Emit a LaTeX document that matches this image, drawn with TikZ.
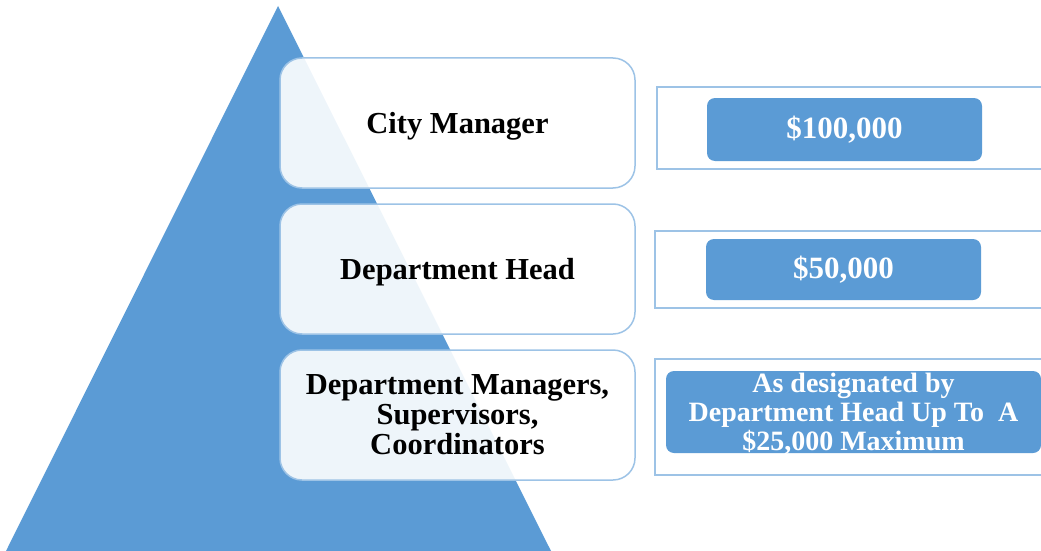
\documentclass[tikz,border=0pt]{standalone}
\usepackage{fontspec}
\setmainfont{Liberation Serif}
\usetikzlibrary{positioning}
\definecolor{pyrblue}{HTML}{5B9BD5}
\definecolor{edgeblue}{HTML}{9DC3E6}

\begin{document}
\begin{tikzpicture}[x=1pt, y=-1pt,
  level/.style={draw=edgeblue, line width=1.5pt, fill=white, fill opacity=0.9, text opacity=1,
    rounded corners=22pt, minimum width=355pt, minimum height=130pt, align=center,
    font=\fontsize{30.5}{30}\selectfont\bfseries},
  frame/.style={draw=edgeblue, line width=2pt, fill=white},
  amount/.style={fill=pyrblue, rounded corners=8pt, text=white, align=center,
    font=\fontsize{31}{30}\selectfont\bfseries}]
\useasboundingbox (0,0) rectangle (1041,551);
% pyramid
\coordinate (top) at (278,6);
\coordinate (bl) at (6,551);
\coordinate (br) at (551,551);
\fill[pyrblue] (top) -- (br) -- (bl) -- cycle;
% levels
\node[level, text depth=0pt] (cm) at (457.5,123) {City Manager};
\node[level, text depth=0pt] (dh) at (457.5,269) {Department Head};
\node[level] (dm) at (457.5,415) {Department Managers,\\Supervisors,\\Coordinators};
% limits
\node[frame, minimum width=388pt, minimum height=82pt] (f1) at (851,128) {};
\node[frame, minimum width=390pt, minimum height=77pt] (f2) at (850,269.5) {};
\node[frame, minimum width=390pt, minimum height=116pt] (f3) at (850,417) {};
\node[amount, minimum width=275pt, minimum height=63pt] (a1) at (844.5,129.5) {\$100,000};
\node[amount, minimum width=275pt, minimum height=61pt] (a2) at (843.5,269.5) {\$50,000};
\node[amount, minimum width=375pt, minimum height=82pt, inner ysep=0pt, text depth=0pt,
  font=\fontsize{28}{29}\selectfont\bfseries] (a3) at (853.5,412)
  {As designated by\\Department Head Up To~ A\\\$25,000 Maximum};
\end{tikzpicture}
\end{document}
